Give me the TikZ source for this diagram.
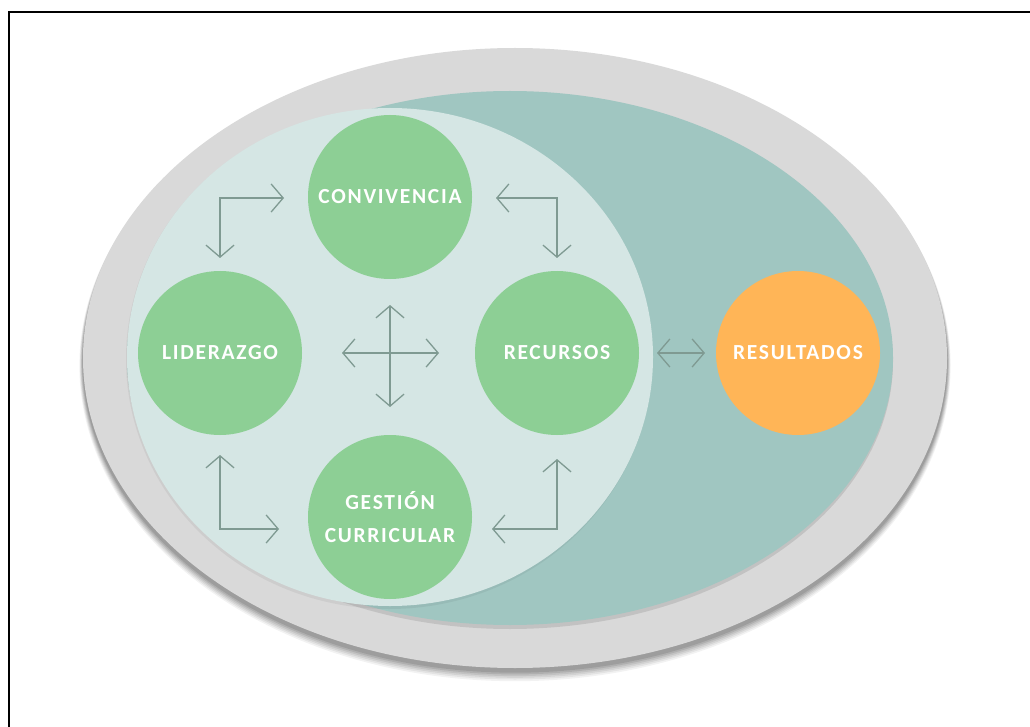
\documentclass[tikz,border=0pt]{standalone}
\usepackage{fontspec}
\setmainfont{Carlito}
\newfontfamily\lblfont[LetterSpace=8]{Carlito}
\usetikzlibrary{arrows.meta}
\definecolor{outergray}{HTML}{D9D9D9}
\definecolor{tealc}{HTML}{A0C6C1}
\definecolor{lightc}{HTML}{D5E6E4}
\definecolor{greenc}{HTML}{8DCF95}
\definecolor{orangec}{HTML}{FFB557}
\definecolor{arrowc}{HTML}{7F9A92}
\tikzset{
  bubble/.style={circle, minimum size=164pt, inner sep=0pt, fill=greenc,
    text=white, font=\lblfont\bfseries\fontsize{21.5}{33}\selectfont, align=center},
  link/.style={draw=arrowc, line width=1.3pt,
    {Straight Barb[length=12pt,width=28pt,line width=1.3pt]}-{Straight Barb[length=12pt,width=28pt,line width=1.3pt]}},
}
\begin{document}
\begin{tikzpicture}[x=1pt,y=-1pt]
\useasboundingbox (0,0) rectangle (1030,727);
\clip (0,0) rectangle (1030,727);
\fill[white] (0,0) rectangle (1030,727);
\draw[line width=2.5pt] (9,12) rectangle (1060,760);
% outer shadow
\foreach \k/\o in {1/0.10,2/0.09,3/0.08,4/0.07,5/0.06,6/0.05}{
  \fill[black,opacity=\o] (515,{361+\k*0.8}) ellipse ({432+\k*0.6} and {310+\k*0.9});
}
\fill[outergray] (515,358) ellipse (432 and 310);
% teal shadow
\fill[black,opacity=0.10] (510,361) ellipse (383 and 268);
\fill[tealc] (510,358) ellipse (383 and 267);
% light shadow
\fill[black,opacity=0.05] (389,359) ellipse (263 and 250);
\fill[lightc] (390,357) ellipse (263 and 249);
% nodes
\node[bubble] (conv) at (390,197) {CONVIVENCIA};
\node[bubble] (lid) at (220,353) {LIDERAZGO};
\node[bubble] (rec) at (557,353) {RECURSOS};
\node[bubble] (gest) at (390,517) {GESTIÓN\\CURRICULAR};
\node[bubble, fill=orangec] (res) at (798,353) {RESULTADOS};
% arrow coordinates
\coordinate (tlA) at (220,258); \coordinate (tlB) at (284,198);
\coordinate (trA) at (496,198); \coordinate (trB) at (557,258);
\coordinate (blA) at (220,455); \coordinate (blB) at (279,529);
\coordinate (brA) at (557,459); \coordinate (brB) at (492,529);
\coordinate (cN) at (390,305); \coordinate (cS) at (390,407);
\coordinate (cW) at (342,353); \coordinate (cE) at (439,353);
\coordinate (mW) at (657,353); \coordinate (mE) at (705,353);
\draw[link] (tlA) |- (tlB);
\draw[link] (trA) -| (trB);
\draw[link] (blA) |- (blB);
\draw[link] (brA) |- (brB);
\draw[link] (cN) -- (cS);
\draw[link] (cW) -- (cE);
\draw[link] (mW) -- (mE);
\end{tikzpicture}
\end{document}
